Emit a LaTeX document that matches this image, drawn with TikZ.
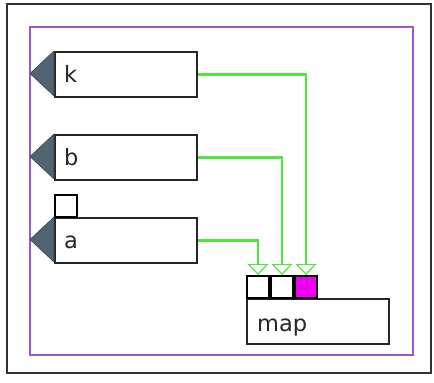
\documentclass[tikz,border=0pt]{standalone}
\usepackage{fontspec}
\setmainfont{DejaVu Sans}
\usetikzlibrary{arrows.meta}
\definecolor{wire}{RGB}{80,230,60}
\definecolor{frame}{RGB}{150,90,200}
\definecolor{tri}{RGB}{80,100,115}
\definecolor{pink}{RGB}{240,0,240}
\begin{document}
\begin{tikzpicture}[x=1pt,y=-1pt,
  blk/.style={draw=black!85,line width=2pt,fill=white,rectangle,minimum width=142pt,minimum height=45pt,anchor=north west,inner sep=0pt},
  port/.style={draw=black,line width=2pt,fill=white,rectangle,minimum width=22pt,minimum height=22pt,anchor=north west,inner sep=0pt},
  lbl/.style={font=\fontsize{22.5}{22.5}\selectfont,anchor=base west,inner sep=0pt,text=black!85},
  wirestyle/.style={draw=wire,line width=2.4pt,-{Triangle[open,width=21pt,length=11pt,line width=1.2pt]}},
  tristyle/.style={fill=tri,draw=tri!70!black,line width=0.6pt}
]
\useasboundingbox (0,0) rectangle (434,383);
\draw[black!80,line width=1.5pt] (7,4) rectangle (431,373);
\draw[frame,line width=2pt] (30,27) rectangle (413,355);
% blocks
\node[blk] (k) at (54,51) {};
\node[blk] (b) at (54,134) {};
\node[blk] (a) at (54,217) {};
\node[port] (as) at (54,194) {};
\fill[tristyle] (30,73.5) -- (54,51) -- (54,96) -- cycle;
\fill[tristyle] (30,156.5) -- (54,134) -- (54,179) -- cycle;
\fill[tristyle] (30,239.5) -- (54,217) -- (54,262) -- cycle;
\node[lbl] at (64,82) {k};
\node[lbl] at (64,165) {b};
\node[lbl] at (64,248) {a};
% map
\node[blk] (map) at (246,298) {};
\node[port] (p1) at (246,275) {};
\node[port] (p2) at (270,275) {};
\node[port,fill=pink] (p3) at (294,275) {};
\node[lbl] at (257,331) {map};
% wires
\draw[wirestyle] (k.east) -| (p3.north);
\draw[wirestyle] (b.east) -| (p2.north);
\draw[wirestyle] (a.east) -| (p1.north);
\end{tikzpicture}
\end{document}
